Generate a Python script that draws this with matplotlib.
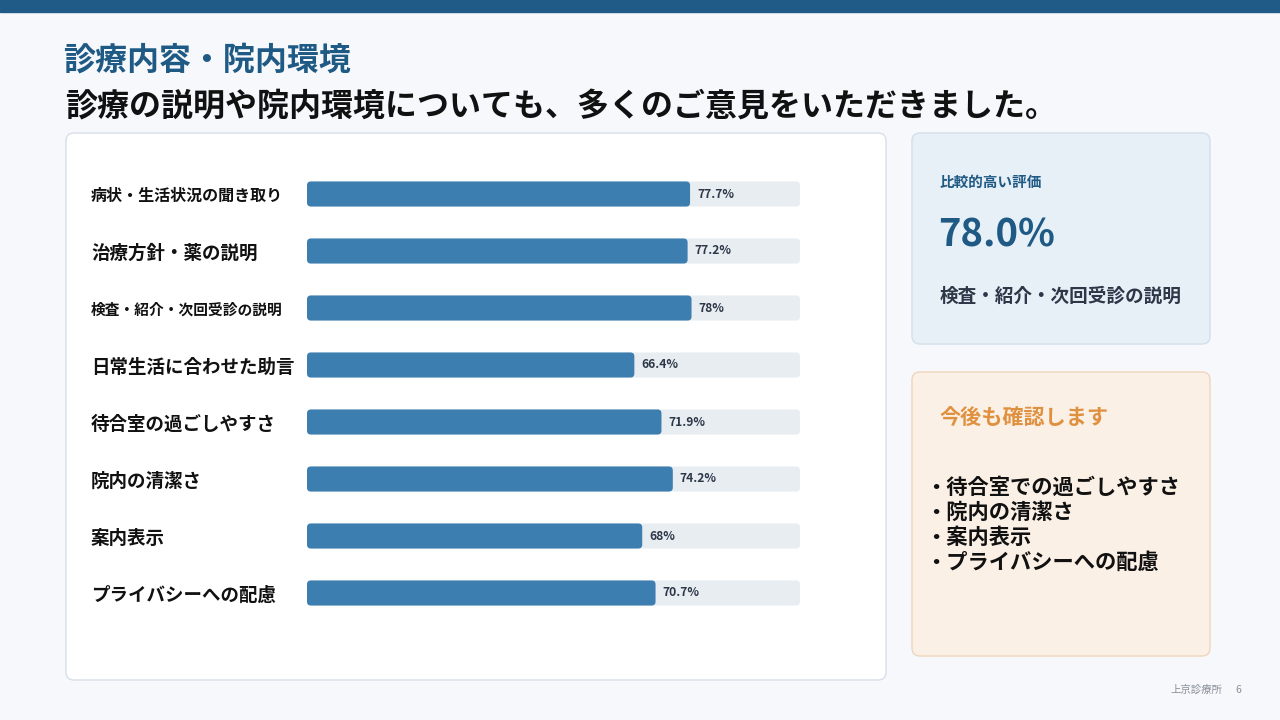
import matplotlib.pyplot as plt
from matplotlib.patches import FancyBboxPatch, Rectangle

plt.rcParams['font.family'] = ['Noto Sans CJK JP', 'DejaVu Sans']

items = ['病状・生活状況の聞き取り', '治療方針・薬の説明', '検査・紹介・次回受診の説明',
         '日常生活に合わせた助言', '待合室の過ごしやすさ', '院内の清潔さ', '案内表示',
         'プライバシーへの配慮']
scores = [77.7, 77.2, 78.0, 66.4, 71.9, 74.2, 68.0, 70.7]
label_sizes = [11.55, 13.3, 10.6, 13.3, 13.3, 13.3, 13.3, 13.3]

title = '診療内容・院内環境'
subtitle = '診療の説明や院内環境についても、多くのご意見をいただきました。'
best_caption = '比較的高い評価'
best_value = 78.0
best_item = '検査・紹介・次回受診の説明'
watch_title = '今後も確認します'
watch_items = ['待合室での過ごしやすさ', '院内の清潔さ', '案内表示', 'プライバシーへの配慮']
footer = '上京診療所'
page = '6'

navy = '#1f5a85'
bar_blue = '#3d7eb0'
track = '#e8edf2'
ink = '#2d3748'

fig = plt.figure(figsize=(12.8, 7.2), dpi=100)
fig.patch.set_facecolor('#f6f8fc')

# page-level layer in pixel coordinates
bg = fig.add_axes([0, 0, 1, 1])
bg.set_xlim(0, 1280)
bg.set_ylim(720, 0)
bg.axis('off')

bg.add_patch(Rectangle((0, 0), 1280, 12, color='#205a86'))
bg.text(63, 60, title, fontsize=23, fontweight='bold', color=navy, va='center')
bg.text(65, 107, subtitle, fontsize=23, fontweight='bold', color='#111111', va='center')

bg.add_patch(FancyBboxPatch((66, 133), 820, 547, boxstyle='round,pad=0,rounding_size=8',
                            facecolor='white', edgecolor='#d8dfe9', lw=1))
bg.add_patch(FancyBboxPatch((912, 133), 298, 211, boxstyle='round,pad=0,rounding_size=8',
                            facecolor='#e8f0f7', edgecolor='#d3dfeb', lw=1))
bg.add_patch(FancyBboxPatch((912, 372), 298, 284, boxstyle='round,pad=0,rounding_size=8',
                            facecolor='#fbf0e6', edgecolor='#efd5bb', lw=1))

bg.text(940, 182, best_caption, fontsize=10.5, fontweight='bold', color=navy, va='center')
bg.text(938, 235, f'{best_value:.1f}%', fontsize=27.5, fontweight='bold', color=navy, va='center')
bg.text(940, 296, best_item, fontsize=13.4, fontweight='bold', color=ink, va='center')

bg.text(940, 418, watch_title, fontsize=15.2, fontweight='bold', color='#e0913f', va='center')
bg.text(925, 525, '\n'.join('・' + w for w in watch_items), fontsize=15.3, fontweight='bold',
        color='#111111', va='center', linespacing=1.24)

bg.text(1222, 690, footer, fontsize=7.5, color='#8a8f99', ha='right', va='center')
bg.text(1238, 690, page, fontsize=7.5, color='#8a8f99', ha='center', va='center')

# bar chart
ax = fig.add_axes([307 / 1280, (720 - 621.5) / 720, 493 / 1280, 456 / 720])
ax.patch.set_alpha(0)
pos = list(range(len(items)))
tracks = ax.barh(pos, [100] * len(items), height=0.44)
bars = ax.barh(pos, scores, height=0.44)
ax.set_xlim(0, 100)
ax.set_ylim(len(items) - 0.5, -0.5)

# round the bar corners (~4 px)
asp = (1 / 57) / (100 / 493)
for group, col in ((tracks, track), (bars, bar_blue)):
    for b in group:
        ax.add_patch(FancyBboxPatch((b.get_x(), b.get_y()), b.get_width(), b.get_height(),
                                    boxstyle='round,pad=0,rounding_size=0.8',
                                    mutation_aspect=asp, facecolor=col, edgecolor='none'))
        b.remove()

for i, v in enumerate(scores):
    ax.text(v + 1.4, i, f'{v:g}%', fontsize=8.7, fontweight='bold', color=ink, va='center')

ax.set_xticks([])
ax.set_yticks(pos)
ax.set_yticklabels(items)
ax.tick_params(axis='y', length=0, pad=(307 - 91) * 0.72)
for tl, fs in zip(ax.get_yticklabels(), label_sizes):
    tl.set_ha('left')
    tl.set_fontsize(fs)
    tl.set_fontweight('bold')
    tl.set_color('#111111')
for s in ax.spines.values():
    s.set_visible(False)

fig.savefig('out.png', dpi=100, facecolor=fig.get_facecolor())
